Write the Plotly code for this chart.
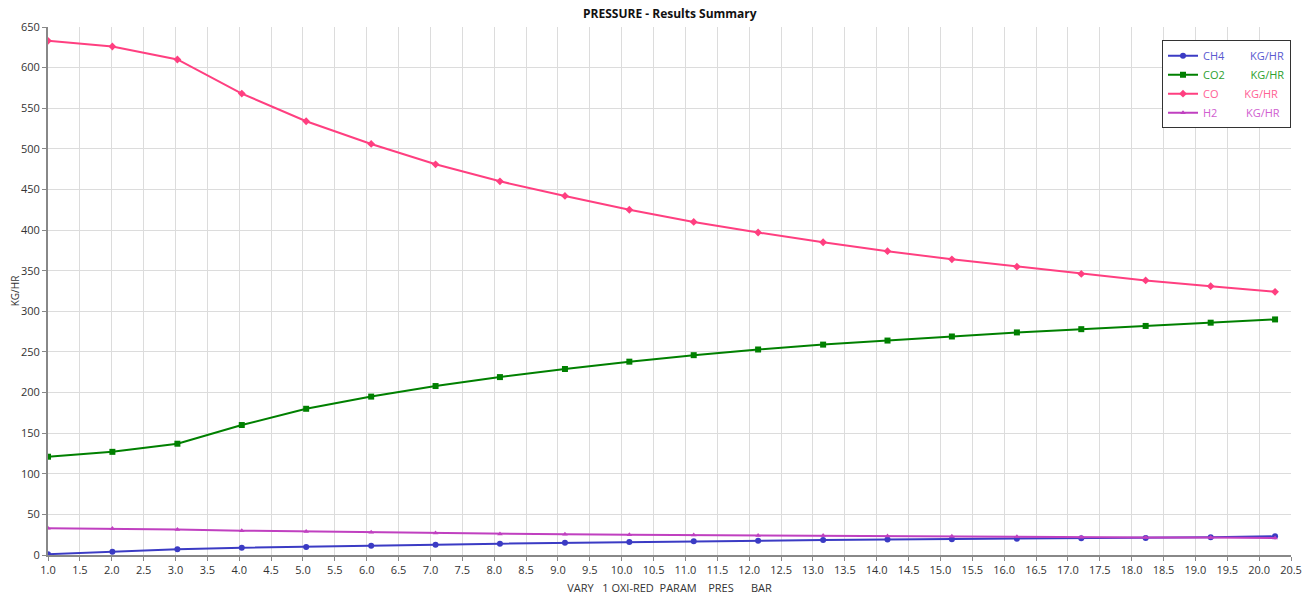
import plotly.graph_objects as go

pressure = [1.0, 2.01, 3.03, 4.04, 5.05, 6.07, 7.08, 8.09, 9.11, 10.12,
            11.13, 12.14, 13.16, 14.17, 15.18, 16.2, 17.21, 18.22, 19.24, 20.25]
ch4 = [1, 4, 7, 9, 10, 11.5, 12.5, 14, 15, 16, 17, 17.5, 18.5, 19, 19.5, 20, 20.5, 21, 22, 23]
co2 = [121, 127, 137, 160, 180, 195, 208, 219, 229, 238, 246, 253, 259, 264, 269, 274, 278, 282, 286, 290]
co = [633, 626, 610, 568, 534, 506, 481, 460, 442, 425, 410, 397, 385, 374, 364, 355, 346, 338, 331, 324]
h2 = [33, 32.5, 31.5, 30, 29, 28, 27, 26, 25.5, 25, 24.5, 24, 24, 23.5, 23, 22.5, 22, 21.5, 21.5, 21]

sp = "&nbsp;"
series = [
    ("CH4", ch4, "#3b3bc4", "#5a5ad0", "circle", 6, "CH4" + sp * 9 + "KG/HR"),
    ("CO2", co2, "#008000", "#2ea02e", "square", 6, "CO2" + sp * 9 + "KG/HR"),
    ("CO", co, "#ff3f80", "#ff5f95", "diamond", 6, "CO" + sp * 9 + "KG/HR"),
    ("H2", h2, "#c040c0", "#d060d0", "triangle-up", 5, "H2" + sp * 10 + "KG/HR"),
]

fig = go.Figure()
for name, vals, col, tcol, sym, msize, label in series:
    fig.add_trace(go.Scatter(
        x=pressure, y=vals, mode="lines+markers",
        name=f"<span style='color:{tcol}'>{label}</span>",
        line=dict(color=col, width=2),
        marker=dict(color=col, symbol=sym, size=msize),
    ))

fig.update_layout(
    width=1308, height=587,
    paper_bgcolor="white", plot_bgcolor="white",
    margin=dict(l=40, r=25, t=19, b=40, autoexpand=False),
    font=dict(family="Open Sans, Noto Sans, sans-serif", size=11, color="#333"),
    showlegend=True,
    legend=dict(x=1.0, y=0.975, xanchor="right", yanchor="top",
                bordercolor="#333", borderwidth=1, bgcolor="white",
                font=dict(size=11), tracegroupgap=0, itemwidth=30),
)
fig.add_annotation(
    text="<b>PRESSURE - Results Summary</b>", xref="paper", yref="paper",
    x=0.5, y=1.0, xanchor="center", yanchor="bottom", yshift=3,
    showarrow=False, font=dict(size=12, color="#111"),
)
fig.update_xaxes(
    range=[1.0, 20.5], dtick=0.5, tick0=1.0, tickformat=".1f", automargin=False,
    showgrid=True, gridcolor="#dcdcdc", gridwidth=1,
    showline=True, linecolor="#888", linewidth=1.5,
    ticks="outside", ticklen=4, tickcolor="#888",
    zeroline=False,
    title=dict(text="VARY" + sp * 3 + "1 OXI-RED" + sp * 2 + "PARAM" + sp * 4 + "PRES" + sp * 6 + "BAR",
               font=dict(size=11, color="#333"), standoff=8),
)
fig.update_yaxes(
    range=[0, 650], dtick=50, automargin=False,
    showgrid=True, gridcolor="#dcdcdc", gridwidth=1,
    showline=True, linecolor="#888", linewidth=2,
    ticks="outside", ticklen=4, tickcolor="#888",
    zeroline=False,
    title=dict(text="KG/HR", font=dict(size=10, color="#333"), standoff=4),
)

fig.write_html("out.html")
